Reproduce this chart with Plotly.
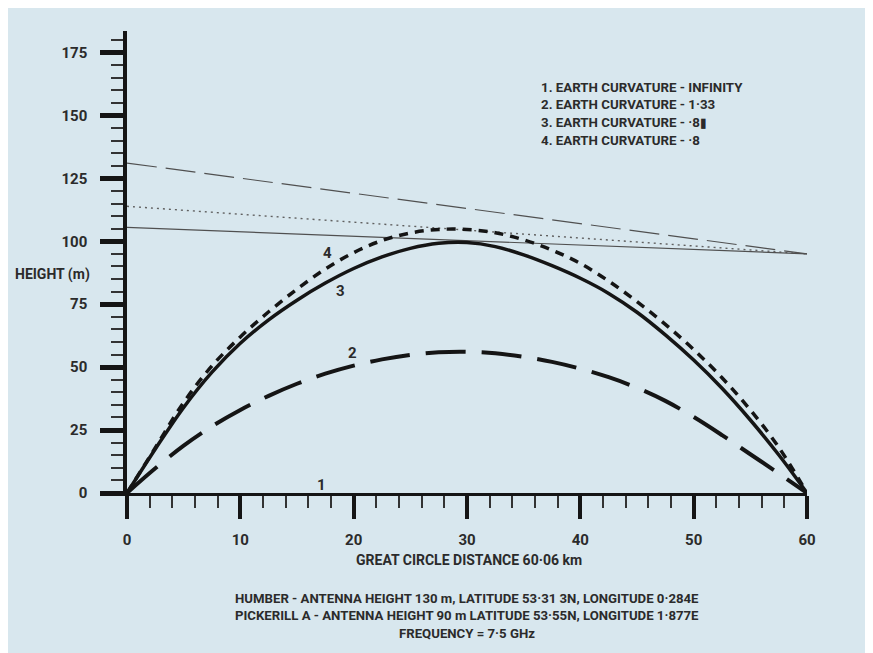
import plotly.graph_objects as go

# ---------------- data ----------------
distance_km = [0, 2.5, 5, 7.5, 10, 12.5, 15, 17.5, 20, 22.5, 25, 27.5, 30,
               32.5, 35, 37.5, 40, 42.5, 45, 47.5, 50, 52.5, 55, 57.5, 60]

# curve 3 : Earth curvature .8x (solid)
curve3 = [0, 17.5, 34, 48, 59.5, 68.8, 76.6, 83.4, 89.2, 93.8, 97.2, 99.2, 99.5,
          97.9, 94.6, 90.3, 85.3, 79.3, 71.8, 62.8, 52.8, 41.6, 29.0, 15.2, 0]
# curve 4 : Earth curvature .8 (short dash)
curve4 = [0, 18, 36, 50.5, 62, 72, 81, 89, 95.5, 100.3, 103.3, 104.7, 104.7,
          103.4, 100.6, 96.5, 91.2, 84.2, 76, 67, 57, 45.8, 33, 18.2, 0]
# curve 2 : Earth curvature 1.33 (long dash)
curve2 = [0, 9.8, 18.8, 26.5, 33, 38.6, 43.4, 47.4, 50.6, 53.1, 54.9, 55.9, 56.1,
          55.5, 54.1, 52.1, 49.4, 46, 41.8, 36.6, 30.2, 23, 15.4, 7.8, 0]

# straight rays: start and end distance, heights
ray_x = [0, 60]
ray_long_dash = [131.1, 95.0]
ray_dotted = [113.9, 95.0]
ray_solid = [105.5, 95.0]

y_ticks = [0, 25, 50, 75, 100, 125, 150, 175]
x_ticks = [0, 10, 20, 30, 40, 50, 60]

legend_lines = ["1. EARTH CURVATURE - INFINITY",
                "2. EARTH CURVATURE - 1·33",
                "3. EARTH CURVATURE - ·8▮",
                "4. EARTH CURVATURE - ·8"]
curve_labels = ["1", "2", "3", "4"]
curve_label_x = [17.2, 19.9, 18.8, 17.7]
curve_label_y = [3.3, 55.6, 80.4, 95.3]

x_title = "GREAT CIRCLE DISTANCE 60·06 km"
y_title = "HEIGHT (m)"
footer = ["HUMBER - ANTENNA HEIGHT 130 m, LATITUDE 53·31 3N, LONGITUDE 0·284E",
          "PICKERILL A - ANTENNA HEIGHT 90 m LATITUDE 53·55N, LONGITUDE 1·877E",
          "FREQUENCY = 7·5 GHz"]

# ---------------- styling ----------------
OFF = 8  # page body margin
W, H = 873, 653
ML, MT = 127 - OFF, 31 - OFF
PW, PH = 680, 462
MR = W - ML - PW
MB = H - MT - PH
BG = "#d8e7ee"
INK = "#151515"
TXT = "#2b2b2b"
FONT = "Roboto, Liberation Sans Narrow, DejaVu Sans Condensed, sans-serif"


def px_x(px):  # screen pixel -> paper coordinate
    return (px - OFF - ML) / PW


def px_y(py):
    return (MT + PH - (py - OFF)) / PH


fig = go.Figure()

fig.add_trace(go.Scatter(x=ray_x, y=ray_long_dash, mode="lines",
                         line=dict(color="#505050", width=1.2, dash="30px,9px")))
fig.add_trace(go.Scatter(x=ray_x, y=ray_dotted, mode="lines",
                         line=dict(color="#606060", width=1.4, dash="2px,4px")))
fig.add_trace(go.Scatter(x=ray_x, y=ray_solid, mode="lines",
                         line=dict(color="#505050", width=1.2)))
fig.add_trace(go.Scatter(x=distance_km, y=curve2, mode="lines", line_shape="spline",
                         line=dict(color=INK, width=4, dash="40px,16px")))
fig.add_trace(go.Scatter(x=distance_km, y=curve4, mode="lines", line_shape="spline",
                         line=dict(color=INK, width=3.5, dash="9px,7px")))
fig.add_trace(go.Scatter(x=distance_km, y=curve3, mode="lines", line_shape="spline",
                         line=dict(color=INK, width=3.5)))

annotations = []
for t, xx, yy in zip(curve_labels, curve_label_x, curve_label_y):
    annotations.append(dict(x=xx, y=yy, xref="x", yref="y", text=t, showarrow=False,
                            font=dict(family=FONT, size=15, color=TXT, weight="bold")))
for i, t in enumerate(legend_lines):
    annotations.append(dict(x=px_x(539), y=px_y(87 + i * 17.7), xref="paper", yref="paper",
                            text=t, showarrow=False, xanchor="left", yanchor="middle",
                            font=dict(family=FONT, size=13.3, color=TXT, weight="bold")))
annotations.append(dict(x=px_x(13), y=px_y(274), xref="paper", yref="paper", text=y_title,
                        showarrow=False, xanchor="left", yanchor="middle",
                        font=dict(family=FONT, size=14, color=TXT, weight="bold")))
annotations.append(dict(x=px_x(469), y=px_y(560), xref="paper", yref="paper", text=x_title,
                        showarrow=False, xanchor="center", yanchor="middle",
                        font=dict(family=FONT, size=14, color=TXT, weight="bold")))
for i, t in enumerate(footer):
    annotations.append(dict(x=px_x(467), y=px_y(598 + i * 17.5), xref="paper", yref="paper",
                            text=t, showarrow=False, xanchor="center", yanchor="middle",
                            font=dict(family=FONT, size=13.2, color=TXT, weight="bold")))

fig.update_layout(
    width=W, height=H, showlegend=False,
    margin=dict(l=ML, r=MR, t=MT, b=MB),
    paper_bgcolor=BG, plot_bgcolor=BG,
    annotations=annotations,
    xaxis=dict(range=[0, 60], tickvals=x_ticks, showgrid=False, zeroline=False,
               showline=True, linecolor=INK, linewidth=3,
               ticks="outside", ticklen=23, tickwidth=4, tickcolor=INK,
               minor=dict(dtick=2, tick0=0, ticks="outside", ticklen=12, tickwidth=1.5,
                          tickcolor="#333", showgrid=False),
               tickfont=dict(family=FONT, size=15, color=TXT, weight="bold"),
               ticklabelstandoff=8),
    yaxis=dict(range=[0, PH / 2.517], tickvals=y_ticks, showgrid=False, zeroline=False,
               showline=True, linecolor=INK, linewidth=3.5,
               ticks="outside", ticklen=23, tickwidth=5, tickcolor=INK,
               minor=dict(dtick=5, tick0=0, ticks="outside", ticklen=12, tickwidth=1.5,
                          tickcolor="#333", showgrid=False),
               tickfont=dict(family=FONT, size=15, color=TXT, weight="bold"),
               ticklabelstandoff=10),
)

fig.write_html("out.html")
